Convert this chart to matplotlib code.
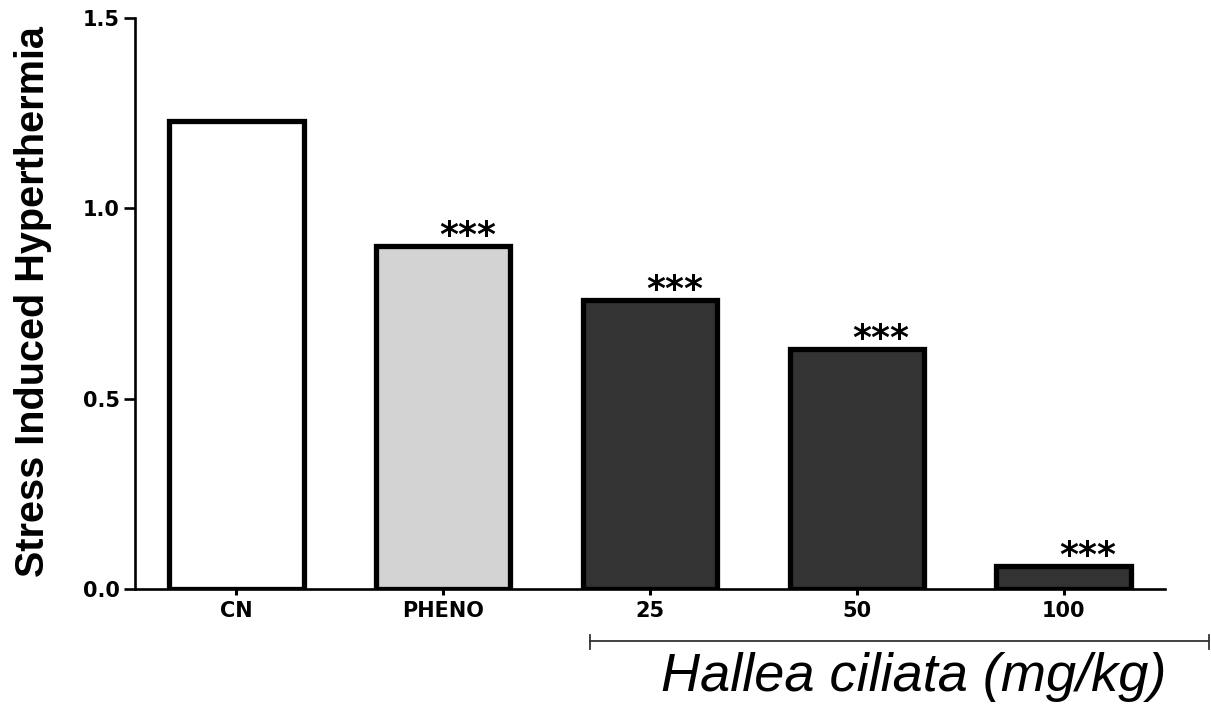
import matplotlib
matplotlib.use("Agg")
import matplotlib.pyplot as plt
from matplotlib.lines import Line2D

# Stress induced hyperthermia per treatment group
groups = ["CN", "PHENO", "25", "50", "100"]
values = [1.23, 0.90, 0.76, 0.63, 0.06]
stars = ["", "***", "***", "***", "***"]
colors = ["#ffffff", "#d3d3d3", "#333333", "#333333", "#333333"]
yticks = [0.0, 0.5, 1.0, 1.5]

fig = plt.figure(figsize=(12.11, 7.04), dpi=100)
ax = fig.add_axes([0.1115, 0.1634, 0.8505, 0.811])

x = range(len(groups))
ax.bar(x, values, width=0.65, color=colors, edgecolor="black", linewidth=3.8, zorder=3)

for xi, v, s in zip(x, values, stars):
    if s:
        ax.annotate(s, xy=(xi + 0.118, v), xytext=(0, 0), textcoords="offset points",
                    ha="center", va="baseline", fontsize=26, fontweight="bold",
                    family="DejaVu Sans")

ax.set_xlim(-0.49, 4.49)
ax.set_ylim(0, 1.5)
ax.set_yticks(yticks)
ax.set_yticklabels([f"{t:.1f}" for t in yticks])
ax.set_xticks(list(x))
ax.set_xticklabels(groups)

for side in ["top", "right"]:
    ax.spines[side].set_visible(False)
for side in ["left", "bottom"]:
    ax.spines[side].set_linewidth(1.9)

ax.tick_params(axis="y", length=8, width=1.9, pad=3)
ax.tick_params(axis="x", length=4, width=2.2, pad=5)
for lab in ax.get_xticklabels() + ax.get_yticklabels():
    lab.set_fontweight("bold")
    lab.set_fontsize(15)
    lab.set_family("DejaVu Sans")

fig.text(33 / 1211, 1 - 302 / 704, "Stress Induced Hyperthermia", rotation=90,
         ha="center", va="center", fontsize=28.5, fontweight="bold",
         family=["Liberation Sans", "DejaVu Sans"])

# dose bracket under the extract groups
y_br = 1 - 641 / 704
x0, x1 = 590 / 1211, 1209 / 1211
fig.add_artist(Line2D([x0, x1], [y_br, y_br], color="#333333", linewidth=1.3))
for xe in (x0, x1):
    fig.add_artist(Line2D([xe, xe], [y_br - 8 / 704, y_br + 6 / 704],
                          color="#333333", linewidth=1.3))

fig.text(914 / 1211, 1 - 691 / 704, "Hallea ciliata (mg/kg)", ha="center",
         va="baseline", fontsize=39, style="italic",
         family=["Liberation Sans", "DejaVu Sans"])

fig.savefig("out.png", dpi=100)
